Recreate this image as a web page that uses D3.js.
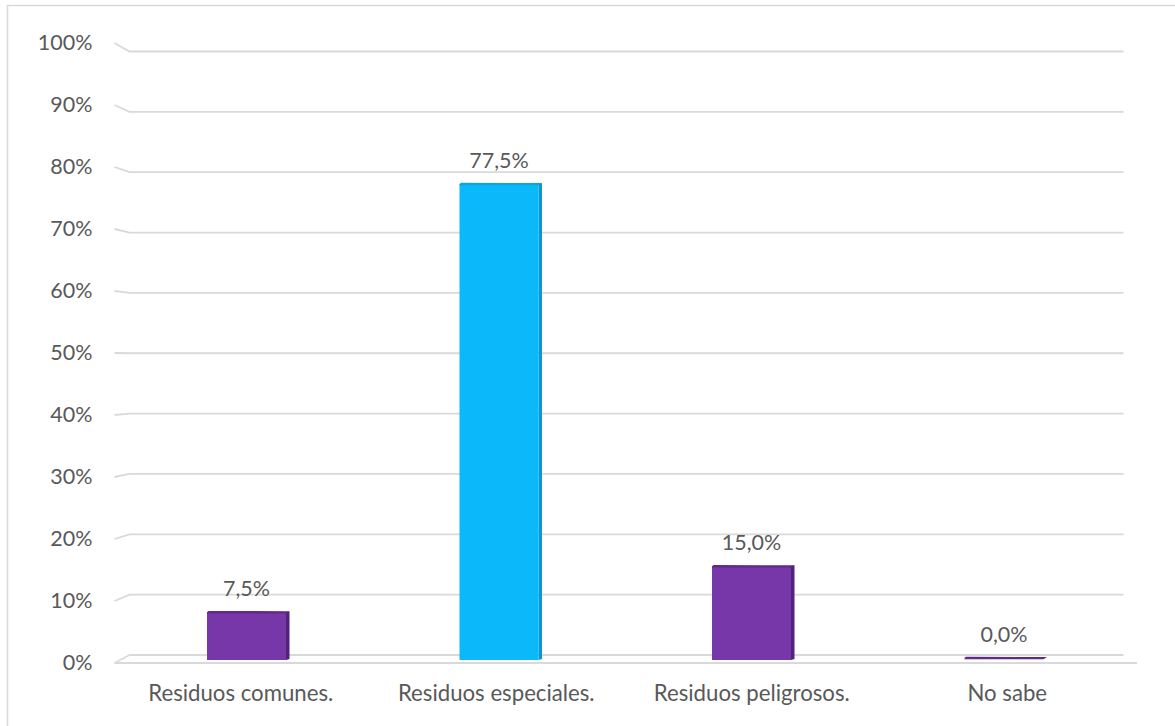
<!DOCTYPE html>
<html>
<head>
<meta charset="utf-8">
<script src="https://cdn.jsdelivr.net/npm/d3@7"></script>
<style>
  html, body { margin: 0; padding: 0; background: #ffffff; }
  svg { display: block; }
  text { font-family: Lato, "Open Sans", sans-serif; fill: #595959; }
</style>
</head>
<body>
<svg id="chart" width="1175" height="726"></svg>
<script>
// ---- data ----
const categories = ["Residuos comunes.", "Residuos especiales.", "Residuos peligrosos.", "No sabe"];
const values = [7.5, 77.5, 15.0, 0.0];
const valueLabels = ["7,5%", "77,5%", "15,0%", "0,0%"];
const barColors = ["#7737A8", "#0BB9FA", "#7737A8", "#7737A8"];
const sideColors = ["#52237A", "#0A98CF", "#52237A", "#52237A"];
const topColors = ["#5F2A8C", "#0AA6E0", "#5F2A8C", "#5F2A8C"];
const tickValues = [0, 10, 20, 30, 40, 50, 60, 70, 80, 90, 100];
const tickLabels = ["0%", "10%", "20%", "30%", "40%", "50%", "60%", "70%", "80%", "90%", "100%"];

const svg = d3.select("#chart");
const fontFamily = 'Lato, "Open Sans", sans-serif';
const fontSize = 21.5;
const catFontSize = 22.2;
const grid = "#D9D9D9";

// outer chart border (clipped on right/bottom like reference)
svg.append("rect")
  .attr("x", 7.5).attr("y", 5.5).attr("width", 1300).attr("height", 900)
  .attr("fill", "none").attr("stroke", grid).attr("stroke-width", 1.5);

// scales: front edge, back wall, bar plane (pseudo-3D perspective)
const yFront = d3.scaleLinear().domain([0, 100]).range([663, 43]);
const yBack = d3.scaleLinear().domain([0, 100]).range([655, 51.5]);
const yBar = d3.scaleLinear().domain([0, 100]).range([658, 46.5]);
const xFront = d3.scaleBand().domain(categories).range([115, 1137]).padding(0);
const xBar = d3.scalePoint().domain(categories).range([120.25, 1130.25]).padding(0.5);
const barWidth = 79;
const baseExtra = 2;
const leftFrontX = 114.5, leftBackX = 129.5, rightBackX = 1123.5, rightFrontX = 1137;

// gridlines (back wall + left wall diagonal)
const gridG = svg.append("g");
gridG.selectAll("path.grid")
  .data(tickValues.filter(v => v > 0))
  .join("path")
  .attr("class", "grid")
  .attr("d", v => `M${leftFrontX},${yFront(v)} L${leftBackX},${yBack(v)} L${rightBackX},${yBack(v)}`)
  .attr("fill", "none").attr("stroke", grid).attr("stroke-width", 1.8);

// floor (0%)
gridG.append("path")
  .attr("d", `M${leftBackX},${yBack(0)} L${rightBackX},${yBack(0)} M${leftBackX},${yBack(0)} L${leftFrontX},${yFront(0)} L${rightFrontX},${yFront(0)}`)
  .attr("fill", "none").attr("stroke", grid).attr("stroke-width", 1.8);

// y axis labels
const yAxis = d3.axisLeft(yFront)
  .tickValues(tickValues)
  .tickFormat((d, i) => tickLabels[i])
  .tickSize(0).tickPadding(0);
const yAxisG = svg.append("g").attr("transform", "translate(92.5,0)").call(yAxis);
yAxisG.select(".domain").remove();
yAxisG.selectAll("text")
  .style("font-family", fontFamily)
  .style("font-size", fontSize + "px")
  .attr("fill", "#595959");

// bars
const bars = svg.append("g").selectAll("g.bar")
  .data(categories.map((c, i) => ({ c, v: values[i], i })))
  .join("g").attr("class", "bar");

const depth = 3.5, topH = 2.5;
// side face
bars.append("path")
  .attr("d", d => {
    const x1 = xBar(d.c) + barWidth / 2, yt = yBar(d.v), yb = yBar(0) + baseExtra;
    return `M${x1},${yt} L${x1 + depth},${yt - 1} L${x1 + depth},${yb - 1} L${x1},${yb} Z`;
  })
  .attr("fill", d => sideColors[d.i])
  .attr("opacity", d => d.v > 0 ? 1 : 0);
// front face
bars.append("rect")
  .attr("x", d => xBar(d.c) - barWidth / 2)
  .attr("y", d => yBar(d.v))
  .attr("width", barWidth)
  .attr("height", d => d.v > 0 ? yBar(0) + baseExtra - yBar(d.v) : 0)
  .attr("fill", d => barColors[d.i]);
// top face
bars.append("path")
  .attr("d", d => {
    const x0 = xBar(d.c) - barWidth / 2, x1 = xBar(d.c) + barWidth / 2, yt = yBar(d.v);
    return `M${x0},${yt} L${x0 + 1.5},${yt - topH / 2} L${x1 + depth},${yt - 1} L${x1},${yt + topH / 2} L${x0},${yt + topH / 2} Z`;
  })
  .attr("fill", d => topColors[d.i]);

// value labels
bars.append("text")
  .attr("x", d => xBar(d.c))
  .attr("y", d => yBar(d.v) - 16)
  .attr("text-anchor", "middle")
  .style("font-size", fontSize + "px")
  .text(d => valueLabels[d.i]);

// category axis
const xAxis = d3.axisBottom(xFront).tickSize(0).tickPadding(0);
const xAxisG = svg.append("g").attr("transform", "translate(-2,685)").call(xAxis);
xAxisG.select(".domain").remove();
xAxisG.selectAll("text")
  .style("font-family", fontFamily)
  .style("font-size", catFontSize + "px")
  .attr("fill", "#595959");
</script>
</body>
</html>
